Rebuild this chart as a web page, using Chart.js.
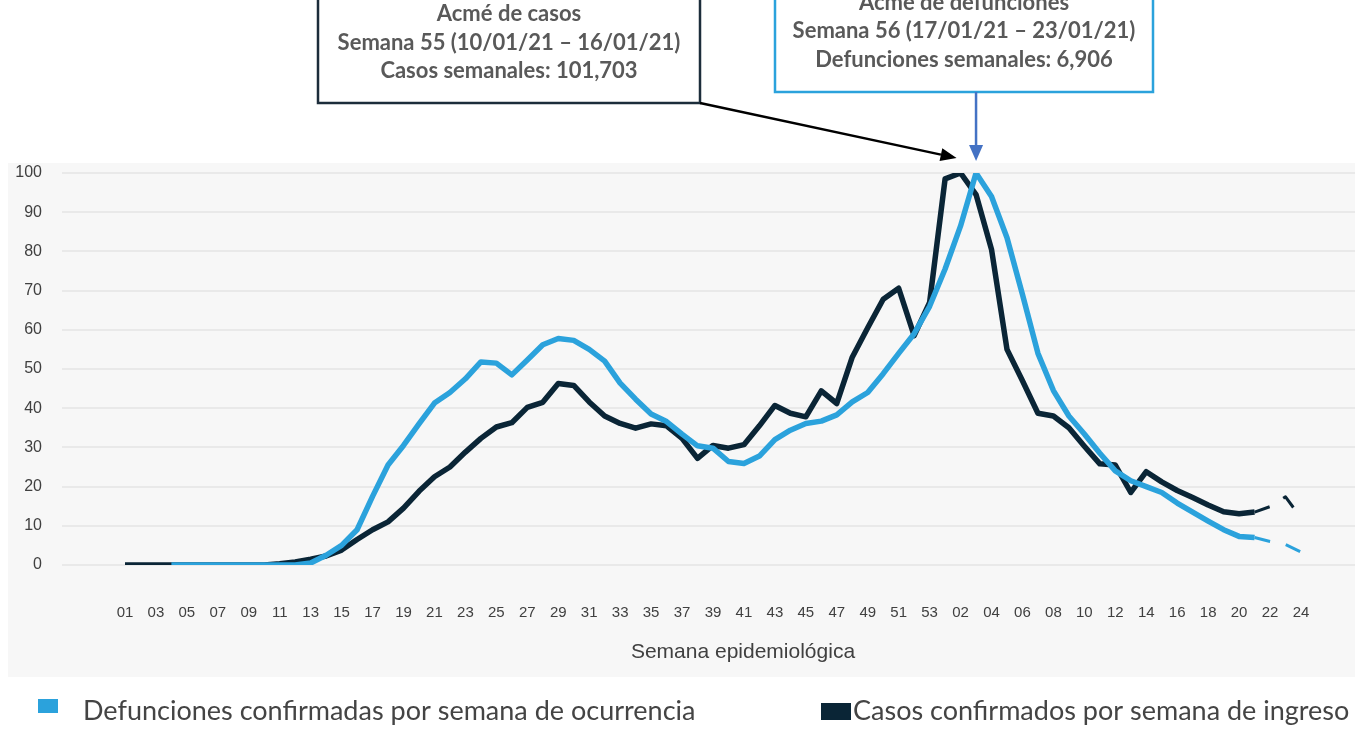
<!DOCTYPE html>
<html>
<head>
<meta charset="utf-8">
<script src="https://cdn.jsdelivr.net/npm/chart.js@4.4.1/dist/chart.umd.min.js"></script>
<style>
  html, body { margin: 0; padding: 0; background: #fff; }
  #wrap { width: 1369px; height: 752px; }
</style>
</head>
<body>
<div id="wrap"><canvas id="grafica" width="1369" height="752"></canvas></div>
<script>
// semanas epidemiologicas 2020 (01-53) y 2021 (01-24)
var semanas = [
	'01','02','03','04','05','06','07','08','09','10','11','12','13','14','15','16','17','18','19','20',
	'21','22','23','24','25','26','27','28','29','30','31','32','33','34','35','36','37','38','39','40',
	'41','42','43','44','45','46','47','48','49','50','51','52','53',
	'01','02','03','04','05','06','07','08','09','10','11','12','13','14','15','16','17','18','19','20',
	'21','22','23','24'
];

// porcentaje respecto al acme (100 = semana pico)
var defunciones = [
	null, null, null, 0, 0, 0, 0, 0, 0, 0,
	0, 0, 0.5, 2.5, 5, 9, 17.5, 25.5, 30.5, 36,
	41.3, 44, 47.5, 51.8, 51.5, 48.5, 52.3, 56.2, 57.8, 57.3,
	55, 52, 46.4, 42.3, 38.5, 36.6, 33.4, 30.4, 29.8, 26.4,
	25.9, 27.8, 32, 34.4, 36.1, 36.7, 38.3, 41.6, 44, 48.8,
	54, 59, 66, 75.5, 86.5, 100, 94, 83.5, 69, 54,
	44.5, 38, 33.4, 28.5, 24, 21.5, 20, 18.5, 15.8, 13.5,
	11.2, 9, 7.3, 7, 6, 5.2, 3.3
];

var casos = [
	0, 0, 0, 0, 0, 0, 0, 0, 0, 0,
	0.3, 0.8, 1.5, 2.3, 3.8, 6.5, 9, 11, 14.5, 18.8,
	22.5, 25, 28.8, 32.3, 35.2, 36.3, 40.2, 41.5, 46.3, 45.8,
	41.6, 38, 36.1, 34.9, 36, 35.5, 32.3, 27.2, 30.5, 29.8,
	30.7, 35.5, 40.7, 38.7, 37.8, 44.4, 41.2, 53, 60.5, 67.8,
	70.6, 58.5, 67, 98.5, 100, 94.5, 80.5, 55, 47, 38.7,
	38, 35, 30.3, 25.8, 25.5, 18.5, 23.8, 21.2, 19, 17.2,
	15.3, 13.6, 13.1, 13.5, 14.9, 17.4, 12
];

var inicioPreliminar = 73; // desde aqui las cifras son preliminares (linea discontinua)

var titulo_x = 'Semana epidemiológica';
var nota_casos = ['Acmé de casos', 'Semana 55 (10/01/21 \u2013 16/01/21)', 'Casos semanales: 101,703'];
var nota_defunciones = ['Acmé de defunciones', 'Semana 56 (17/01/21 \u2013 23/01/21)', 'Defunciones semanales: 6,906'];

var AZUL = '#2ba2dc';
var OSCURO = '#0a2536';

function puntos(arr){
	return arr.map(function(v, i){ return {x: i, y: v}; });
}

var segmento = {
	borderDash: function(ctx){ return ctx.p0DataIndex >= inicioPreliminar ? [16, 16] : undefined; },
	borderWidth: function(ctx){ return ctx.p0DataIndex >= inicioPreliminar ? 3 : undefined; }
};

// fondo gris del area de la grafica
var fondo = {
	id: 'fondo',
	beforeDraw: function(chart){
		var ctx = chart.ctx;
		ctx.save();
		ctx.fillStyle = '#f7f7f7';
		ctx.fillRect(8, 163, 1347, 514);
		ctx.restore();
	}
};

function flecha(ctx, x1, y1, x2, y2, color, grosor, largo, ancho){
	var ang = Math.atan2(y2 - y1, x2 - x1);
	var bx = x2 - largo * Math.cos(ang), by = y2 - largo * Math.sin(ang);
	ctx.strokeStyle = color;
	ctx.fillStyle = color;
	ctx.lineWidth = grosor;
	ctx.beginPath();
	ctx.moveTo(x1, y1);
	ctx.lineTo(bx, by);
	ctx.stroke();
	ctx.beginPath();
	ctx.moveTo(x2, y2);
	ctx.lineTo(bx + ancho / 2 * Math.sin(ang), by - ancho / 2 * Math.cos(ang));
	ctx.lineTo(bx - ancho / 2 * Math.sin(ang), by + ancho / 2 * Math.cos(ang));
	ctx.closePath();
	ctx.fill();
}

function caja(ctx, x1, x2, y2, borde, lineas, base){
	ctx.fillStyle = '#fff';
	ctx.fillRect(x1, -20, x2 - x1, y2 + 20);
	ctx.strokeStyle = borde;
	ctx.lineWidth = 2.5;
	ctx.strokeRect(x1, -20, x2 - x1, y2 + 20);
	ctx.fillStyle = '#595959';
	ctx.font = 'bold 22px Lato, "Open Sans", sans-serif';
	ctx.textAlign = 'center';
	ctx.textBaseline = 'alphabetic';
	lineas.forEach(function(t, i){
		ctx.fillText(t, (x1 + x2) / 2, base + i * 28.5);
	});
}

var notas = {
	id: 'notas',
	afterDraw: function(chart){
		var ctx = chart.ctx;
		var sx = chart.scales.x, sy = chart.scales.y;
		ctx.save();

		// titulo del eje x (desplazado a la derecha como en el original)
		ctx.font = '21px "Liberation Sans", Arial, sans-serif';
		ctx.fillStyle = '#404040';
		ctx.textAlign = 'center';
		ctx.textBaseline = 'middle';
		ctx.fillText(titulo_x, 743, 652);

		caja(ctx, 318, 700, 103, '#1c2d3b', nota_casos, 21);
		caja(ctx, 775, 1153, 92, AZUL, nota_defunciones, 9.5);

		var px = sx.getPixelForValue(54), py = sy.getPixelForValue(100);
		flecha(ctx, 700, 103, px - 4, py - 15, '#000', 2.5, 16, 13);
		var qx = sx.getPixelForValue(55);
		flecha(ctx, qx, 92, qx, py - 12, '#4472c4', 2.5, 16, 14);

		// leyenda
		var ds = chart.data.datasets;
		ctx.font = '27px Lato, "Open Sans", sans-serif';
		ctx.textAlign = 'left';
		ctx.textBaseline = 'alphabetic';
		ctx.fillStyle = ds[0].borderColor;
		ctx.fillRect(38, 699, 20, 14);
		ctx.fillStyle = '#444';
		ctx.fillText(ds[0].label, 83, 720);
		ctx.fillStyle = ds[1].borderColor;
		ctx.fillRect(821, 703, 30, 17);
		ctx.fillStyle = '#444';
		ctx.fillText(ds[1].label, 853, 720);
		ctx.restore();
	}
};

new Chart(document.getElementById('grafica'), {
	type: 'line',
	data: {
		datasets: [
			{
				label: 'Defunciones confirmadas por semana de ocurrencia',
				data: puntos(defunciones),
				borderColor: AZUL,
				backgroundColor: AZUL,
				borderWidth: 5.5,
				pointRadius: 0,
				tension: 0,
				borderJoinStyle: 'round',
				spanGaps: false,
				segment: segmento,
				order: 1
			},
			{
				label: 'Casos confirmados por semana de ingreso',
				data: puntos(casos),
				borderColor: OSCURO,
				backgroundColor: OSCURO,
				borderWidth: 5.5,
				pointRadius: 0,
				tension: 0,
				borderJoinStyle: 'round',
				segment: segmento,
				order: 2
			}
		]
	},
	options: {
		responsive: false,
		animation: false,
		layout: { padding: { top: 173, right: 14, bottom: 77, left: 0 } },
		plugins: {
			legend: { display: false },
			tooltip: { enabled: false }
		},
		scales: {
			x: {
				type: 'linear',
				min: -4.07,
				max: 79.49,
				grid: { display: false },
				border: { display: false },
				afterBuildTicks: function(axis){
					axis.ticks = semanas.map(function(s, i){ return {value: i}; })
						.filter(function(t){ return t.value % 2 === 0; });
				},
				afterFit: function(axis){ axis.height = 110; },
				ticks: {
					autoSkip: false,
					maxRotation: 0,
					padding: 31,
					color: '#404040',
					font: { family: '"Liberation Sans", Arial, sans-serif', size: 15 },
					callback: function(v){ return semanas[v]; }
				}
			},
			y: {
				min: 0,
				max: 100,
				afterFit: function(axis){ axis.width = 62; },
				grid: { color: '#e9e9e9', lineWidth: 2, drawTicks: false },
				border: { display: false },
				ticks: {
					stepSize: 10,
					padding: 20,
					color: '#404040',
					font: { family: '"Liberation Sans", Arial, sans-serif', size: 16 }
				}
			}
		}
	},
	plugins: [fondo, notas]
});
</script>
</body>
</html>
